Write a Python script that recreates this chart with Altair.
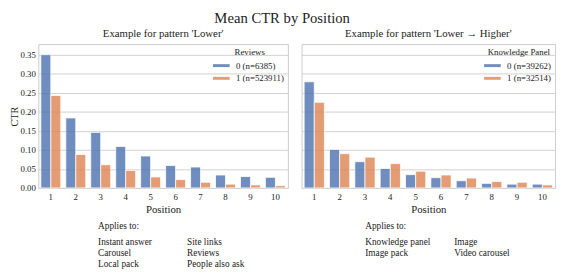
import altair as alt
import pandas as pd

# ---------------- data ----------------
positions = [1, 2, 3, 4, 5, 6, 7, 8, 9, 10]

reviews_title = "Reviews"
reviews_labels = ["0 (n=6385)", "1 (n=523911)"]
reviews_0 = [0.350, 0.184, 0.146, 0.109, 0.084, 0.059, 0.055, 0.034, 0.030, 0.028]
reviews_1 = [0.243, 0.088, 0.061, 0.046, 0.029, 0.022, 0.015, 0.010, 0.008, 0.006]

kp_title = "Knowledge Panel"
kp_labels = ["0 (n=39262)", "1 (n=32514)"]
kp_0 = [0.279, 0.101, 0.069, 0.051, 0.035, 0.027, 0.019, 0.012, 0.010, 0.010]
kp_1 = [0.225, 0.090, 0.081, 0.064, 0.044, 0.034, 0.026, 0.017, 0.015, 0.008]

left_subtitle = "Example for pattern 'Lower'"
right_subtitle = "Example for pattern 'Lower \u2192 Higher'"

left_applies_1 = ["Instant answer", "Carousel", "Local pack"]
left_applies_2 = ["Site links", "Reviews", "People also ask"]
right_applies_1 = ["Knowledge panel", "Image pack"]
right_applies_2 = ["Image", "Video carousel"]

y_ticks = [0.0, 0.05, 0.10, 0.15, 0.20, 0.25, 0.30, 0.35]
colors = ["#4c72b0", "#dd8452"]

FONT = "Liberation Serif"
H = 147


def make_df(v0, v1, labels):
    rows = []
    for p, a, b in zip(positions, v0, v1):
        rows.append({"Position": p, "Group": labels[0], "CTR": a})
        rows.append({"Position": p, "Group": labels[1], "CTR": b})
    return pd.DataFrame(rows)


def panel(df, labels, legend_title, subtitle, applies1, applies2, show_y, width, tx):
    if show_y:
        yaxis = alt.Axis(values=y_ticks, format=".2f", title="CTR", titlePadding=1,
                         titleFontSize=10.5, labelPadding=3, ticks=False, domain=False,
                         grid=True)
    else:
        yaxis = alt.Axis(values=y_ticks, labels=False, title=None, ticks=False,
                         domain=False, grid=True)
    bars = alt.Chart(df).mark_bar(opacity=0.8, stroke="white", strokeWidth=0.8).encode(
        x=alt.X("Position:O",
                scale=alt.Scale(paddingInner=0.2, paddingOuter=0.1),
                axis=alt.Axis(labelAngle=0, ticks=False, domain=False, grid=False,
                              title="Position", labelPadding=5, titlePadding=2)),
        xOffset=alt.XOffset("Group:N", scale=alt.Scale(domain=labels, paddingInner=0, paddingOuter=0)),
        y=alt.Y("CTR:Q", scale=alt.Scale(domain=[0, 0.378], nice=False, zero=True), axis=yaxis),
        color=alt.Color("Group:N",
                        scale=alt.Scale(domain=labels, range=colors),
                        legend=alt.Legend(title=legend_title, orient="top-right",
                                          offset=2, padding=2,
                                          titleAnchor="middle",
                                          symbolType="M-1.7,-0.3L1.7,-0.3L1.7,0.3L-1.7,0.3Z",
                                          symbolSize=100, symbolOpacity=0.8,
                                          symbolStrokeWidth=0, labelOffset=10,
                                          rowPadding=3, titlePadding=4,
                                          labelFontSize=9, titleFontSize=9,
                                          titleFontWeight="normal",
                                          labelFont=FONT, titleFont=FONT)),
    )
    one = pd.DataFrame({"k": [0]})
    header = alt.Chart(one).mark_text(text="Applies to:", align="left", baseline="middle",
                                      fontSize=9.5, font=FONT, color="#222").encode(
        x=alt.value(tx[0]), y=alt.value(186))
    col1 = alt.Chart(one).mark_text(text=applies1, align="left", baseline="top",
                                    lineHeight=11.5, fontSize=9.5, font=FONT, color="#222").encode(
        x=alt.value(tx[0]), y=alt.value(197))
    col2 = alt.Chart(one).mark_text(text=applies2, align="left", baseline="top",
                                    lineHeight=11.5, fontSize=9.5, font=FONT, color="#222").encode(
        x=alt.value(tx[1]), y=alt.value(197))
    return alt.layer(bars, header, col1, col2).properties(
        width=width, height=H,
        title=alt.TitleParams(subtitle, fontSize=11, font=FONT, fontWeight="normal",
                              offset=5, color="#222"))


left = panel(make_df(reviews_0, reviews_1, reviews_labels), reviews_labels, reviews_title,
             left_subtitle, left_applies_1, left_applies_2, True, 255, (61, 152))
right = panel(make_df(kp_0, kp_1, kp_labels), kp_labels, kp_title,
              right_subtitle, right_applies_1, right_applies_2, False, 259, (65, 156))

chart = alt.hconcat(left, right, spacing=12).resolve_scale(
    color="independent", y="independent", x="independent", xOffset="independent"
).properties(
    title=alt.TitleParams("Mean CTR by Position", fontSize=15, font=FONT, fontWeight="normal",
                          anchor="middle", offset=2, color="#222", dx=0)
).configure(
    font=FONT, padding={"left": 0, "top": 0, "right": 2, "bottom": 0}
).configure_view(
    stroke="#cccccc", strokeWidth=1
).configure_axis(
    labelFont=FONT, titleFont=FONT, labelFontSize=9, titleFontSize=11,
    labelColor="#222", titleColor="#222", titleFontWeight="normal",
    gridColor="#d0d0d0", gridWidth=1
).configure_legend(
    labelColor="#222", titleColor="#222"
)

chart.save("out.html", embed_options={"renderer": "svg", "actions": False})
